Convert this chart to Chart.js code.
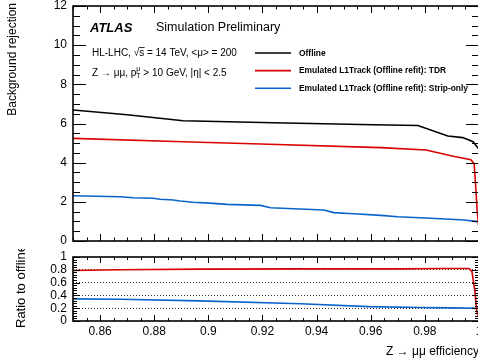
<!DOCTYPE html>
<html>
<head>
<meta charset="utf-8">
<script src="https://cdn.jsdelivr.net/npm/chart.js@4"></script>
<style>
  html, body { margin: 0; padding: 0; background: #fff; overflow: hidden; width: 478px; height: 362px; }
  canvas { position: absolute; left: 0; }
  #main { top: 0; }
  #ratio { top: 249px; }
</style>
</head>
<body>
<canvas id="main" width="500" height="250"></canvas>
<canvas id="ratio" width="500" height="113"></canvas>
<script>
// Background rejection vs Z -> mumu efficiency
const effOffline = [0.85, 0.87, 0.8907, 0.924, 0.961, 0.9774, 0.9885, 0.994, 0.9978, 0.9996, 1.0];
const rejOffline = [6.69, 6.45, 6.14, 6.04, 5.94, 5.90, 5.36, 5.28, 5.07, 4.75, 4.70];

const effTDR = [0.85, 0.8907, 0.9193, 0.9637, 0.9804, 0.9905, 0.997, 0.9982, 0.9987, 0.9993, 0.9998, 1.0];
const rejTDR = [5.24, 5.07, 4.95, 4.77, 4.65, 4.33, 4.15, 3.95, 2.96, 1.58, 0.85, 0.70];

const effStrip = [0.85, 0.8674, 0.8722, 0.8796, 0.8822, 0.887, 0.8896, 0.8944, 0.9019, 0.907, 0.9193,
                  0.923, 0.9315, 0.9426, 0.9463, 0.9537, 0.9637, 0.97, 0.9822, 0.9944, 0.9996, 1.0];
const rejStrip = [2.31, 2.26, 2.21, 2.18, 2.13, 2.09, 2.04, 1.98, 1.92, 1.87, 1.82,
                  1.70, 1.65, 1.58, 1.45, 1.39, 1.31, 1.24, 1.16, 1.07, 0.99, 0.98];

// ratio to offline
const effRatioTDR = [0.85, 0.8674, 0.897, 0.934, 0.971, 0.986, 0.9963, 0.9974, 0.9985, 0.9991, 0.9996, 1.0];
const ratioTDR = [0.79, 0.80, 0.81, 0.815, 0.815, 0.82, 0.82, 0.77, 0.46, 0.17, 0.09, 0.08];

const effRatioStrip = [0.85, 0.8674, 0.897, 0.934, 0.9593, 0.9778, 0.99, 1.0];
const ratioStrip = [0.345, 0.34, 0.315, 0.27, 0.225, 0.21, 0.205, 0.20];

const xTicks = [0.86, 0.88, 0.9, 0.92, 0.94, 0.96, 0.98, 1];
const yMainTicks = [0, 2, 4, 6, 8, 10, 12];
const yRatioTicks = [0, 0.2, 0.4, 0.6, 0.8, 1];

const seriesNames = ['Offline', 'Emulated L1Track (Offline refit): TDR', 'Emulated L1Track (Offline refit): Strip-only'];
const seriesColors = ['#000000', '#dc0000', '#0a64cc'];

const FONT = '"Liberation Sans", Arial, Helvetica, sans-serif';

function pts(xs, ys) {
    return xs.map((x, i) => ({x: x, y: ys[i]}));
}

// plain number labels: 1 not 1.0
const fmt = v => String(Math.round(v * 100) / 100);

// ROOT style frame with ticks pointing inside
function frameTicks(chart, o) {
    const {ctx, chartArea: a} = chart;
    const x = chart.scales.x, y = chart.scales.y;
    ctx.save();
    ctx.strokeStyle = '#000';
    ctx.lineWidth = 1;
    ctx.beginPath();
    let n = Math.round((y.max - y.min) / o.yMinor);
    for (let i = 0; i <= n; i++) {
        const v = y.min + i * o.yMinor;
        const r = v / o.yMajor;
        const len = Math.abs(r - Math.round(r)) < 1e-6 ? o.yMajLen : o.yMinLen;
        const py = Math.round(y.getPixelForValue(v)) + 0.5;
        ctx.moveTo(a.left, py); ctx.lineTo(a.left + len, py);
        ctx.moveTo(a.right, py); ctx.lineTo(a.right - len, py);
    }
    n = Math.round((x.max - x.min) / o.xMinor);
    for (let i = 0; i <= n; i++) {
        const v = x.min + i * o.xMinor;
        const r = v / o.xMajor;
        const len = Math.abs(r - Math.round(r)) < 1e-6 ? o.xMajLen : o.xMinLen;
        const px = Math.round(x.getPixelForValue(v)) + 0.5;
        ctx.moveTo(px, a.bottom); ctx.lineTo(px, a.bottom - len);
        ctx.moveTo(px, a.top); ctx.lineTo(px, a.top + len);
    }
    ctx.stroke();
    ctx.lineWidth = 1.6;
    ctx.strokeRect(a.left, a.top, a.right - a.left, a.bottom - a.top);
    ctx.restore();
}

const mainDeco = {
    id: 'mainDeco',
    afterDraw(chart) {
        frameTicks(chart, {yMinor: 0.5, yMajor: 2, yMajLen: 13, yMinLen: 7,
                           xMinor: 0.005, xMajor: 0.02, xMajLen: 7, xMinLen: 3.5});
        const ctx = chart.ctx;
        ctx.save();
        ctx.fillStyle = '#000';
        ctx.textBaseline = 'middle';

        // y title
        ctx.save();
        ctx.translate(13, 3);
        ctx.rotate(-Math.PI / 2);
        ctx.textAlign = 'right';
        ctx.font = '12px ' + FONT;
        ctx.fillText('Background rejection', 0, 0);
        ctx.restore();

        ctx.textAlign = 'left';
        ctx.font = 'italic bold 13px ' + FONT;
        ctx.fillText('ATLAS', 90, 28);
        ctx.font = '12.5px ' + FONT;
        ctx.fillText('Simulation Preliminary', 156, 28);

        // HL-LHC line
        ctx.font = '10px ' + FONT;
        let x0 = 92, y0 = 53;
        let t = 'HL-LHC, \u221A';
        ctx.fillText(t, x0, y0);
        x0 += ctx.measureText(t).width;
        const sw = ctx.measureText('s').width;
        ctx.fillText('s', x0, y0);
        ctx.beginPath();
        ctx.lineWidth = 0.8;
        ctx.moveTo(x0 - 0.5, y0 - 5.5); ctx.lineTo(x0 + sw + 0.5, y0 - 5.5);
        ctx.stroke();
        x0 += sw;
        ctx.fillText(' = 14 TeV, <\u03BC> = 200', x0, y0);

        // Z -> mumu line
        x0 = 92; y0 = 73;
        t = 'Z \u2192 \u03BC\u03BC, p';
        ctx.fillText(t, x0, y0);
        x0 += ctx.measureText(t).width;
        ctx.font = '7px ' + FONT;
        ctx.fillText('T', x0, y0 + 3);
        ctx.fillText('\u03BC', x0, y0 - 4);
        x0 += Math.max(ctx.measureText('T').width, ctx.measureText('\u03BC').width);
        ctx.font = '10px ' + FONT;
        ctx.fillText(' > 10 GeV, |\u03B7| < 2.5', x0, y0);

        // legend
        ctx.font = 'bold 9.5px ' + FONT;
        const sx = 169 / ctx.measureText(seriesNames[2]).width;
        chart.data.datasets.forEach((ds, i) => {
            const ly = 53 + i * 17.6;
            ctx.beginPath();
            ctx.strokeStyle = ds.borderColor;
            ctx.lineWidth = 1.6;
            ctx.moveTo(255, ly); ctx.lineTo(291, ly);
            ctx.stroke();
            ctx.save();
            ctx.translate(299, ly);
            ctx.scale(sx, 1);
            ctx.fillText(ds.label, 0, 0);
            ctx.restore();
        });
        ctx.restore();
    }
};

const ratioDeco = {
    id: 'ratioDeco',
    afterDraw(chart) {
        frameTicks(chart, {yMinor: 0.04, yMajor: 0.2, yMajLen: 7, yMinLen: 4,
                           xMinor: 0.005, xMajor: 0.02, xMajLen: 6, xMinLen: 3});
        const ctx = chart.ctx;
        ctx.save();
        ctx.fillStyle = '#000';
        ctx.textBaseline = 'middle';
        ctx.save();
        ctx.translate(21, 79);
        ctx.rotate(-Math.PI / 2);
        ctx.textAlign = 'left';
        ctx.font = '13px ' + FONT;
        ctx.fillText('Ratio to offline', 0, 0);
        ctx.restore();
        ctx.textAlign = 'right';
        ctx.font = '12px ' + FONT;
        ctx.fillText('Z \u2192 \u03BC\u03BC efficiency', 479, 103);
        ctx.restore();
    }
};

const tickFont = {family: FONT, size: 12};

new Chart(document.getElementById('main'), {
    type: 'line',
    data: {
        datasets: [
            {label: seriesNames[0], data: pts(effOffline, rejOffline), borderColor: seriesColors[0]},
            {label: seriesNames[1], data: pts(effTDR, rejTDR), borderColor: seriesColors[1]},
            {label: seriesNames[2], data: pts(effStrip, rejStrip), borderColor: seriesColors[2]},
        ]
    },
    options: {
        responsive: false,
        animation: false,
        layout: {padding: {top: 6, right: 21, bottom: 9, left: 0}},
        elements: {point: {radius: 0}, line: {borderWidth: 1.6, tension: 0}},
        plugins: {legend: {display: false}, tooltip: {enabled: false}},
        scales: {
            x: {type: 'linear', min: 0.85, max: 1.0, display: false},
            y: {
                min: 0, max: 12,
                afterBuildTicks: s => { s.ticks = yMainTicks.map(v => ({value: v})); },
                afterFit: s => { s.width = 73; s.paddingTop = 0; s.paddingBottom = 0; },
                grid: {display: false, drawTicks: false},
                border: {display: false},
                ticks: {padding: 6, color: '#000', font: tickFont, autoSkip: false, callback: fmt}
            }
        }
    },
    plugins: [mainDeco]
});

new Chart(document.getElementById('ratio'), {
    type: 'line',
    data: {
        datasets: [
            {label: seriesNames[1], data: pts(effRatioTDR, ratioTDR), borderColor: seriesColors[1]},
            {label: seriesNames[2], data: pts(effRatioStrip, ratioStrip), borderColor: seriesColors[2]},
        ]
    },
    options: {
        responsive: false,
        animation: false,
        layout: {padding: {top: 8, right: 21, bottom: 0, left: 0}},
        elements: {point: {radius: 0}, line: {borderWidth: 1.6, tension: 0}},
        plugins: {legend: {display: false}, tooltip: {enabled: false}},
        scales: {
            x: {
                type: 'linear', min: 0.85, max: 1.0,
                afterBuildTicks: s => { s.ticks = xTicks.map(v => ({value: v})); },
                afterFit: s => { s.height = 41; s.paddingLeft = 0; s.paddingRight = 0; },
                grid: {display: false, drawTicks: false},
                border: {display: false},
                ticks: {padding: 3, color: '#000', font: tickFont, autoSkip: false, maxRotation: 0, callback: fmt}
            },
            y: {
                min: 0, max: 1,
                afterBuildTicks: s => { s.ticks = yRatioTicks.map(v => ({value: v})); },
                afterFit: s => { s.width = 73; s.paddingTop = 0; s.paddingBottom = 0; },
                grid: {
                    drawTicks: false,
                    lineWidth: 1,
                    color: c => (c.tick && c.tick.value > 0.01 && c.tick.value < 0.99) ? '#333' : 'rgba(0,0,0,0)'
                },
                border: {display: false, dash: [1, 2]},
                ticks: {padding: 6, color: '#000', font: tickFont, autoSkip: false, callback: fmt}
            }
        }
    },
    plugins: [ratioDeco]
});
</script>
</body>
</html>
